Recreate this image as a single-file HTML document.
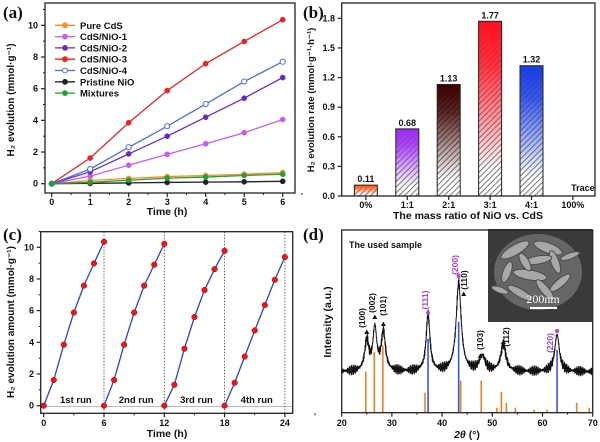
<!DOCTYPE html>
<html><head><meta charset="utf-8">
<style>
body{margin:0;background:#fff}
svg{display:block}
</style></head>
<body>
<svg id="fig" width="600" height="442" viewBox="0 0 600 442">
<defs>
<pattern id="hatch" patternUnits="userSpaceOnUse" width="4" height="4" patternTransform="rotate(45)">
<rect width="4" height="4" fill="#fff"/><line x1="0" y1="0" x2="0" y2="4" stroke="#555" stroke-width="1.6"/>
</pattern>
</defs>
</svg>
<script>
const NS='http://www.w3.org/2000/svg';
const svg=document.getElementById('fig');
function mk(tag,attrs,parent){const e=document.createElementNS(NS,tag);for(const k in attrs)e.setAttribute(k,attrs[k]);(parent||svg).appendChild(e);return e;}

// ---------- Panel (a) data ----------
const timeA=[0,1,2,3,4,5,6];
const seriesNamesA=['Pure CdS','CdS/NiO-1','CdS/NiO-2','CdS/NiO-3','CdS/NiO-4','Pristine NiO','Mixtures'];
const seriesColorsA=['#ff8c2a','#c75cf5','#6a2bc4','#ee2222','#4a6ee8','#222222','#22a033'];
const pureCdS=[0,0.2,0.33,0.45,0.52,0.6,0.7];
const cdsNio1=[0,0.48,1.17,1.85,2.52,3.22,4.05];
const cdsNio2=[0,0.75,1.88,3.0,4.2,5.4,6.7];
const cdsNio3=[0,1.62,3.85,5.88,7.58,8.98,10.35];
const cdsNio4=[0,0.92,2.3,3.63,5.03,6.45,7.7];
const pristineNio=[0,0.02,0.05,0.08,0.1,0.12,0.15];
const mixtures=[0,0.08,0.22,0.35,0.42,0.52,0.6];
const yTicksA=[0,2,4,6,8,10];
const xTicksA=[0,1,2,3,4,5,6];

// ---------- Panel (b) data ----------
const ratioCats=['0%','1:1','2:1','3:1','4:1','100%'];
const rateValues=[0.11,0.68,1.13,1.77,1.32,null];
const rateLabels=['0.11','0.68','1.13','1.77','1.32','Trace'];
const barColorsB=['#ff5a1a','#9a2cf0','#3a0000','#ff1020','#1a3ce0',null];
const yTicksB=[0,0.3,0.6,0.9,1.2,1.5,1.8];

// ---------- Panel (c) data ----------
const run1=[0,1.62,3.85,5.88,7.58,8.98,10.35];
const run2=[0,1.62,3.85,5.88,7.58,8.9,10.22];
const run3=[0,1.32,3.6,5.6,7.3,8.62,9.78];
const run4=[0,1.45,3.1,4.75,6.35,7.95,9.38];
const runLabels=['1st run','2nd run','3rd run','4th run'];
const xTicksC=[0,6,12,18,24];
const yTicksC=[0,2,4,6,8,10];

// ---------- Panel (d) data ----------
const peakPos=[25.0,26.6,28.3,37.2,43.3,48.0,52.2,62.9];
const peakHeight=[30,42,38,57,88,15,27,37];
const peakWidth=[0.5,0.45,0.5,0.45,0.6,0.7,0.6,0.55];
const baseline=41;
const cdsRefPos=[24.8,26.5,28.2,36.6,43.7,47.8,50.9,51.8,52.8,54.6,58.3,60.9,66.8,69.3];
const cdsRefInt=[41,61,67,20,32,32,5,21,10,5,3,3,10,5];
const nioRefPos=[37.2,43.3,62.9];
const nioRefInt=[74,91,63];
const xTicksD=[20,30,40,50,60,70];

const FONT='"Liberation Sans", Arial, sans-serif';
function txt(x,y,s,size,anchor,parent,extra){const t=mk('text',Object.assign({x:x,y:y,'font-size':size,'text-anchor':anchor||'middle',fill:'#111','font-family':FONT,'font-weight':'bold'},extra||{}),parent);t.textContent=s;return t;}

function frame(x1,y1,x2,y2,name){
 const r=mk('rect',{x:x1,y:y1,width:x2-x1,height:y2-y1,fill:'none',stroke:'#222','stroke-width':1.3});
 
 
}

// ================= Panel (a) =================
const gA=mk('g',{});


const xa=t=>51.7+t*38.5, ya=v=>183.7-v*15.84;
frame(45,3,295,193,'panel-a-frame');
xTicksA.forEach(t=>{
 const l=mk('line',{x1:xa(t),x2:xa(t),y1:193,y2:197,stroke:'#222','stroke-width':1.2},gA);
 
 
 mk('line',{x1:xa(t+0.5),x2:xa(t+0.5),y1:193,y2:195,stroke:'#222'},gA);
 const lb=txt(xa(t),205,String(t),9,'middle',gA);
 
 
});
yTicksA.forEach(v=>{
 const l=mk('line',{x1:41,x2:45,y1:ya(v),y2:ya(v),stroke:'#222','stroke-width':1.2},gA);
 
 
 mk('line',{x1:43,x2:45,y1:ya(v+1),y2:ya(v+1),stroke:'#222'},gA);
 const lb=txt(38,ya(v)+3,String(v),9,'end',gA);
 
 
});
const xtA=txt(167,215,'Time (h)',10.5,'middle',gA);


const ytA=txt(0,0,'H₂ evolution (mmol·g⁻¹)',10,'middle',gA,{transform:'translate(14,100) rotate(-90)'});


const dataA=[pureCdS,cdsNio1,cdsNio2,cdsNio3,cdsNio4,pristineNio,mixtures];
dataA.forEach((s,i)=>{
 const c=seriesColorsA[i];
 const p=mk('polyline',{points:s.map((v,j)=>xa(timeA[j])+','+ya(v)).join(' '),fill:'none',stroke:c,'stroke-width':1.3},gA);
 
 
 s.forEach((v,j)=>{
  const d=mk('circle',{cx:xa(timeA[j]),cy:ya(v),r:2.6,fill:i==4?'#fff':c,stroke:c,'stroke-width':i==4?1:0.5},gA);
  
  
 });
 const ly=25.3+i*11.3;
 const ll=mk('line',{x1:55,x2:75,y1:ly,y2:ly,stroke:c,'stroke-width':1.3},gA);
 
 
 const lc=mk('circle',{cx:65,cy:ly,r:2.4,fill:i==4?'#fff':c,stroke:c},gA);
 
 
 const lt=txt(80,ly+3.5,seriesNamesA[i],9.5,'start',gA);
 
 
});
const pa=mk('text',{x:3,y:18,'font-size':17,'font-family':'"Liberation Serif", serif','font-weight':'bold',fill:'#111'});
pa.textContent='(a)';



// ================= Panel (b) =================
const gB=mk('g',{});


const xb=i=>365.9+i*41.4, yb=v=>196-v*98.7;
frame(341.7,3,595,196,'panel-b-frame');
ratioCats.forEach((c,i)=>{
 const l=mk('line',{x1:xb(i),x2:xb(i),y1:196,y2:200,stroke:'#222','stroke-width':1.2},gB);
 
 
 const lb=txt(xb(i),208,c,9,'middle',gB);
 
 
 const v=rateValues[i];
 if(v!==null){
  const grad=mk('linearGradient',{id:'gb'+i,x1:0,y1:0,x2:0,y2:1},svg.querySelector('defs'));
  mk('stop',{offset:'0','stop-color':barColorsB[i],'stop-opacity':1},grad);
  mk('stop',{offset:'0.25','stop-color':barColorsB[i],'stop-opacity':0.85},grad);
  mk('stop',{offset:'0.85','stop-color':barColorsB[i],'stop-opacity':0},grad);
  const x=xb(i)-11.5,y=yb(v),h=196-yb(v);
  const b1=mk('rect',{x:x,y:y,width:23,height:h,fill:'url(#hatch)'},gB);
  
  
  const b2=mk('rect',{x:x,y:y,width:23,height:h,fill:'url(#gb'+i+')',stroke:'#222','stroke-width':1},gB);
  
  
  const vl=txt(xb(i),y-3,rateLabels[i],9,'middle',gB);
  
  
 } else {
  const vl=txt(xb(i)+10,191,rateLabels[i],9,'middle',gB);
  
  
 }
});
yTicksB.forEach(v=>{
 const l=mk('line',{x1:337.7,x2:341.7,y1:yb(v),y2:yb(v),stroke:'#222','stroke-width':1.2},gB);
 
 
 const lb=txt(335,yb(v)+3,v.toFixed(1),9,'end',gB);
 
 
});
const xtB=txt(468,219,'The mass ratio of NiO vs.  CdS',10.5,'middle',gB);


const ytB=txt(0,0,'H₂ evolution rate (mmol·g⁻¹·h⁻¹)',9.5,'middle',gB,{transform:'translate(314,100) rotate(-90)'});


const pb=mk('text',{x:303,y:18,'font-size':17,'font-family':'"Liberation Serif", serif','font-weight':'bold',fill:'#111'});
pb.textContent='(b)';



// ================= Panel (c) =================
const gC=mk('g',{});


const xc=t=>43.7+t*10.05, yc=v=>405.7-v*15.84;
frame(40.7,231.7,292.7,413.3,'panel-c-frame');
const zl=mk('line',{x1:40.7,x2:292.7,y1:yc(-0.05),y2:yc(-0.05),stroke:'#bbb','stroke-width':1},gC);


[6,12,18,24].forEach(t=>{
 const l=mk('line',{x1:xc(t),x2:xc(t),y1:231.7,y2:413.3,stroke:'#444','stroke-width':0.8,'stroke-dasharray':'1.5,1.5'},gC);
 
 
});
xTicksC.forEach(t=>{
 const l=mk('line',{x1:xc(t),x2:xc(t),y1:413.3,y2:417.3,stroke:'#222','stroke-width':1.2},gC);
 
 
 mk('line',{x1:xc(t+3),x2:xc(t+3),y1:413.3,y2:415.3,stroke:'#222'},gC);
 const lb=txt(xc(t),426,String(t),9,'middle',gC);
 
 
});
yTicksC.forEach(v=>{
 const l=mk('line',{x1:36.7,x2:40.7,y1:yc(v),y2:yc(v),stroke:'#222','stroke-width':1.2},gC);
 
 
 mk('line',{x1:38.7,x2:40.7,y1:yc(v+1),y2:yc(v+1),stroke:'#222'},gC);
 const lb=txt(34,yc(v)+3,String(v),9,'end',gC);
 
 
});
[run1,run2,run3,run4].forEach((r,k)=>{
 const p=mk('polyline',{points:r.map((v,j)=>xc(k*6+j)+','+yc(v)).join(' '),fill:'none',stroke:'#2b3fe0','stroke-width':1.3},gC);
 
 
 r.forEach((v,j)=>{
  const d=mk('circle',{cx:xc(k*6+j),cy:yc(v),r:2.8,fill:'#ee1515',stroke:'#a00','stroke-width':0.5},gC);
  
  
 });
 const lb=txt(xc(k*6+3.2),403,runLabels[k],9.5,'middle',gC);
 
 
});
const xtC=txt(167,437,'Time (h)',10.5,'middle',gC);


const ytC=txt(0,0,'H₂ evolution amount (mmol·g⁻¹)',10,'middle',gC,{transform:'translate(14,322) rotate(-90)'});


const pc=mk('text',{x:3,y:240,'font-size':17,'font-family':'"Liberation Serif", serif','font-weight':'bold',fill:'#111'});
pc.textContent='(c)';



// ================= Panel (d) =================
const gD=mk('g',{});


const xd=d=>341.7+(d-20)*5.02, yd=I=>412.7-I;
frame(341.7,230,592.7,412.7,'panel-d-frame');
cdsRefPos.forEach((p,i)=>{
 const l=mk('line',{x1:xd(p),x2:xd(p),y1:412.7,y2:yd(cdsRefInt[i]),stroke:'#f08020','stroke-width':1.6},gD);
 
 
});
nioRefPos.forEach((p,i)=>{
 const l=mk('line',{x1:xd(p),x2:xd(p),y1:412.7,y2:yd(nioRefInt[i]),stroke:'#3355ee','stroke-width':1.6},gD);
 
 
});
let pts=[];
for(let d=20;d<=70.001;d+=0.05){
 let I=baseline;
 peakPos.forEach((c,i)=>{const w=peakWidth[i];I+=peakHeight[i]*w*w/((d-c)*(d-c)+w*w);});
 const jit=3.2*Math.sin(d*197.3)+2.2*Math.sin(d*433.1+1);
 pts.push(xd(d).toFixed(2)+','+yd(I+jit).toFixed(2));
}
const spec=mk('polyline',{points:pts.join(' '),fill:'none',stroke:'#111','stroke-width':1},gD);


xTicksD.forEach(t=>{
 const l=mk('line',{x1:xd(t),x2:xd(t),y1:412.7,y2:416.7,stroke:'#222','stroke-width':1.2},gD);
 
 
 if(t<70) mk('line',{x1:xd(t+5),x2:xd(t+5),y1:412.7,y2:414.7,stroke:'#222'},gD);
 const lb=txt(xd(t),426,String(t),9,'middle',gD);
 
 
});
const xtD=mk('text',{x:467,y:438,'font-size':10.5,'text-anchor':'middle',fill:'#111','font-family':FONT,'font-weight':'bold'},gD);
xtD.innerHTML='<tspan font-style="italic">2θ</tspan> (°)';


const ytD=txt(0,0,'Intensity (a.u.)',10.5,'middle',gD,{transform:'translate(331,322) rotate(-90)'});


const us=txt(349,248,'The used sample',9,'start',gD);


const hklText=['(100)','(002)','(101)','(111)','(200)','(110)','(103)','(112)','(220)'];
const hklX=[365,375,386,428,458,467,483,509,553];
const hklY=[318,303,306,300,265,280,340,337,343];
const hklNio=[false,false,false,true,true,false,false,false,true];
hklText.forEach((s,i)=>{
 const t=txt(0,0,s,8.5,'middle',gD,{transform:'translate('+hklX[i]+','+hklY[i]+') rotate(-90)',fill:hklNio[i]?'#a040e0':'#111'});
 
 
});
const cdsMarkX=[25.0,26.6,28.3,44.3,47.6,52.2];
const cdsMarkY=[332,317,324,294,356,342];
cdsMarkX.forEach((p,i)=>{
 const x=xd(p),y=cdsMarkY[i];
 const m=mk('polygon',{points:(x-2.5)+','+(y+2)+' '+(x+2.5)+','+(y+2)+' '+x+','+(y-2.5),fill:'#111'},gD);
 
 
});
nioRefPos.forEach((p,i)=>{
 const m=mk('circle',{cx:xd(p),cy:[313,276,331][i],r:2,fill:'#b040e8'},gD);
 
 
});
const ins=mk('g',{},gD);


mk('rect',{x:488,y:229,width:104,height:93,fill:'#3a3a3a'},ins);
mk('ellipse',{cx:538,cy:272,rx:44,ry:38,fill:'#666'},ins);
[[515,250,16,5,-30],[548,248,15,5,20],[530,275,17,5,10],[560,283,13,4,-40],[520,293,14,4,30],[555,262,12,4,70],[507,272,11,4,-70],[538,260,14,4,-10],[545,290,13,4,50],[525,262,10,4,60],[570,256,10,3,-20],[500,290,9,3,20]].forEach(a=>{
 mk('ellipse',{cx:a[0],cy:a[1],rx:a[2],ry:a[3],fill:'#a8a8a8',stroke:'#4a4a4a','stroke-width':1,transform:'rotate('+a[4]+' '+a[0]+' '+a[1]+')'},ins);
});
const sb=mk('line',{x1:530,x2:557,y1:308,y2:308,stroke:'#fff','stroke-width':2},ins);


const sbt=mk('text',{x:543,y:303,'font-size':12,'text-anchor':'middle',fill:'#fff','font-family':'"Liberation Serif", serif','font-weight':'normal'},ins);
sbt.textContent='200nm';


const pd=mk('text',{x:303,y:240,'font-size':17,'font-family':'"Liberation Serif", serif','font-weight':'bold',fill:'#111'});
pd.textContent='(d)';


</script>
</body></html>
